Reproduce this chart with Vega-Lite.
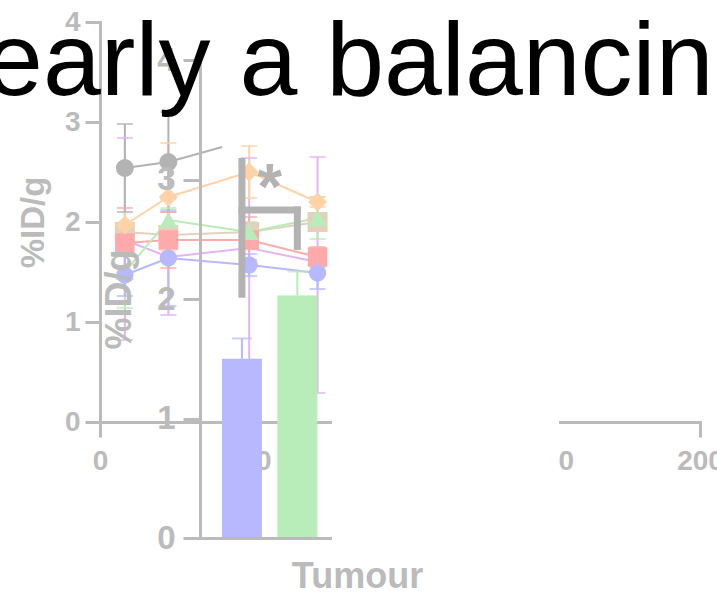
{
  "$schema": "https://vega.github.io/schema/vega-lite/v6.json",
  "width": 717,
  "height": 596,
  "autosize": "none",
  "padding": 0,
  "background": "white",
  "config": {
    "view": {"stroke": null},
    "axis": {
      "grid": false,
      "domainColor": "#bbbbbb",
      "tickColor": "#bbbbbb",
      "labelColor": "#bbbbbb",
      "titleColor": "#bbbbbb",
      "domainWidth": 3,
      "tickWidth": 3,
      "labelFont": "Liberation Sans",
      "titleFont": "Liberation Sans",
      "labelFontWeight": "bold",
      "titleFontWeight": "bold",
      "labelFlush": false,
      "labelOverlap": false,
      "domainCap": "square",
      "format": "d"
    }
  },
  "title": {
    "text": "Nearly a balancing act",
    "anchor": "start",
    "frame": "group",
    "orient": "top",
    "font": "Liberation Sans",
    "fontSize": 104,
    "fontWeight": "normal",
    "color": "black",
    "baseline": "alphabetic",
    "offset": -199,
    "dx": -90,
    "zindex": 2
  },
  "datasets": {
    "series": [
      {"s": "purple", "t": 8, "m": 1.82, "lo": 0.82, "hi": 2.84, "pt": false},
      {"s": "purple", "t": 22, "m": 1.65, "lo": 1.07, "hi": 2.23, "pt": false},
      {"s": "purple", "t": 48, "m": 1.74, "lo": 0.5, "hi": 2.64, "pt": false},
      {"s": "purple", "t": 70, "m": 1.6, "lo": 0.29, "hi": 2.65, "pt": false},
      {"s": "tan", "t": 8, "m": 1.9, "lo": 1.85, "hi": 1.95, "pt": true},
      {"s": "tan", "t": 22, "m": 1.87, "lo": 1.82, "hi": 1.92, "pt": true},
      {"s": "tan", "t": 48, "m": 1.9, "lo": 1.85, "hi": 1.95, "pt": true},
      {"s": "tan", "t": 70, "m": 2.0, "lo": 1.95, "hi": 2.05, "pt": true},
      {"s": "red", "t": 8, "m": 1.79, "lo": 1.44, "hi": 2.14, "pt": true},
      {"s": "red", "t": 22, "m": 1.82, "lo": 1.54, "hi": 2.1, "pt": true},
      {"s": "red", "t": 48, "m": 1.82, "lo": 1.62, "hi": 2.05, "pt": true},
      {"s": "red", "t": 70, "m": 1.65, "lo": 1.55, "hi": 1.75, "pt": true},
      {"s": "orange", "t": 8, "m": 1.97, "lo": 1.44, "hi": 2.5, "pt": true},
      {"s": "orange", "t": 22, "m": 2.25, "lo": 1.71, "hi": 2.79, "pt": true},
      {"s": "orange", "t": 48, "m": 2.5, "lo": 2.24, "hi": 2.76, "pt": true},
      {"s": "orange", "t": 70, "m": 2.2, "lo": 2.15, "hi": 2.25, "pt": true},
      {"s": "green", "t": 8, "m": 1.5, "lo": 1.14, "hi": 1.86, "pt": true},
      {"s": "green", "t": 22, "m": 2.02, "lo": 1.9, "hi": 2.14, "pt": true},
      {"s": "green", "t": 48, "m": 1.9, "lo": 1.8, "hi": 2.0, "pt": true},
      {"s": "green", "t": 70, "m": 2.04, "lo": 1.83, "hi": 2.25, "pt": true},
      {"s": "gray", "t": 8, "m": 2.54, "lo": 2.1, "hi": 2.98, "pt": true},
      {"s": "gray", "t": 22, "m": 2.6, "lo": 2.1, "hi": 3.1, "pt": true},
      {"s": "gray", "t": 39.3, "m": 2.75, "lo": null, "hi": null, "pt": false},
      {"s": "blue", "t": 8, "m": 1.47, "lo": 1.26, "hi": 1.68, "pt": true},
      {"s": "blue", "t": 22, "m": 1.64, "lo": 1.16, "hi": 2.12, "pt": true},
      {"s": "blue", "t": 48, "m": 1.57, "lo": 1.46, "hi": 1.68, "pt": true},
      {"s": "blue", "t": 70, "m": 1.49, "lo": 1.33, "hi": 1.65, "pt": true}
    ],
    "bars": [
      {"c": "Blue", "pos": 1, "v": 1.5, "e": 1.67},
      {"c": "Green", "pos": 2, "v": 2.03, "e": 2.23}
    ],
    "bracket": [
      {"x": 1, "x2": 1, "y": 2.04, "y2": 3.15},
      {"x": 1, "x2": 2, "y": 2.745, "y2": 2.745},
      {"x": 2, "x2": 2, "y": 2.44, "y2": 2.745}
    ],
    "star": [{"pos": 1.5, "y": 2.75, "label": "*"}],
    "axis3": [{"v": 0}, {"v": 200}]
  },
  "layer": [
    {
      "data": {"name": "series"},
      "layer": [
        {
          "mark": {"type": "line", "strokeWidth": 2},
          "encoding": {
            "x": {"field": "t", "type": "quantitative", "scale": {"domain": [0, 74], "range": [100, 330], "nice": false, "zero": false},
              "axis": {"orient": "bottom", "offset": -174, "values": [0, 50], "tickSize": 15, "labelFontSize": 28, "labelPadding": 10, "title": null}},
            "y": {"field": "m", "type": "quantitative", "scale": {"domain": [0, 4], "range": [422, 22], "nice": false},
              "axis": {"orient": "left", "offset": -100, "values": [0, 1, 2, 3, 4], "tickSize": 15, "labelFontSize": 28, "labelPadding": 5, "title": "%ID/g", "titleFontSize": 33, "titlePadding": 14}},
            "color": {"field": "s", "type": "nominal", "legend": null,
              "scale": {"domain": ["purple", "tan", "red", "orange", "green", "gray", "blue"], "range": ["#e4b4f4", "#e2d2bc", "#ffaaaa", "#ffd2a8", "#b8ecb8", "#b3b3b3", "#b8b8ff"]}}
          }
        },
        {
          "mark": {"type": "rule", "strokeWidth": 2},
          "encoding": {
            "x": {"field": "t", "type": "quantitative"},
            "y": {"field": "lo", "type": "quantitative"},
            "y2": {"field": "hi"},
            "color": {"field": "s", "type": "nominal", "legend": null}
          }
        },
        {
          "mark": {"type": "tick", "orient": "horizontal", "size": 16, "thickness": 2},
          "encoding": {
            "x": {"field": "t", "type": "quantitative"},
            "y": {"field": "lo", "type": "quantitative"},
            "color": {"field": "s", "type": "nominal", "legend": null}
          }
        },
        {
          "mark": {"type": "tick", "orient": "horizontal", "size": 16, "thickness": 2},
          "encoding": {
            "x": {"field": "t", "type": "quantitative"},
            "y": {"field": "hi", "type": "quantitative"},
            "color": {"field": "s", "type": "nominal", "legend": null}
          }
        },
        {
          "transform": [{"filter": "datum.pt"}],
          "mark": {"type": "point", "filled": true, "opacity": 1},
          "encoding": {
            "x": {"field": "t", "type": "quantitative"},
            "y": {"field": "m", "type": "quantitative"},
            "color": {"field": "s", "type": "nominal", "legend": null},
            "shape": {"field": "s", "type": "nominal", "legend": null,
              "scale": {"domain": ["tan", "red", "orange", "green", "gray", "blue"], "range": ["square", "square", "diamond", "triangle-up", "circle", "circle"]}},
            "size": {"field": "s", "type": "nominal", "legend": null,
              "scale": {"domain": ["tan", "red", "orange", "green", "gray", "blue"], "range": [400, 300, 320, 300, 380, 320]}}
          }
        }
      ]
    },
    {
      "layer": [
        {
          "data": {"name": "bars"},
          "mark": {"type": "bar", "size": 40, "orient": "vertical"},
          "encoding": {
            "x": {"field": "pos", "type": "quantitative", "scale": {"domain": [0.3333, 2.5], "range": [200, 330], "nice": false, "zero": false},
              "axis": {"orient": "bottom", "offset": -58, "ticks": false, "labels": false, "title": "Tumour", "titleFontSize": 36, "titleX": 357, "titleY": 49, "titleBaseline": "alphabetic", "zindex": 1}},
            "y": {"field": "v", "type": "quantitative", "scale": {"domain": [0, 4], "range": [538, 60], "nice": false},
              "axis": {"orient": "left", "offset": -200, "values": [0, 1, 2, 3, 4], "tickSize": 17, "labelFontSize": 33, "labelPadding": 8, "title": "%ID/g", "titleFontSize": 36, "titlePadding": 18, "zindex": 1}},
            "color": {"field": "c", "type": "nominal", "legend": null, "scale": {"domain": ["Blue", "Green"], "range": ["#b8b8ff", "#b8ecb8"]}}
          }
        },
        {
          "data": {"name": "bars"},
          "mark": {"type": "rule", "strokeWidth": 2},
          "encoding": {
            "x": {"field": "pos", "type": "quantitative"},
            "y": {"field": "v", "type": "quantitative"},
            "y2": {"field": "e"},
            "color": {"field": "c", "type": "nominal", "legend": null}
          }
        },
        {
          "data": {"name": "bars"},
          "mark": {"type": "tick", "orient": "horizontal", "size": 20, "thickness": 2},
          "encoding": {
            "x": {"field": "pos", "type": "quantitative"},
            "y": {"field": "e", "type": "quantitative"},
            "color": {"field": "c", "type": "nominal", "legend": null}
          }
        },
        {
          "data": {"name": "bracket"},
          "mark": {"type": "rule", "strokeWidth": 7, "color": "#b3b3b3", "strokeCap": "square"},
          "encoding": {
            "x": {"field": "x", "type": "quantitative"},
            "x2": {"field": "x2"},
            "y": {"field": "y", "type": "quantitative"},
            "y2": {"field": "y2"}
          }
        },
        {
          "data": {"name": "star"},
          "mark": {"type": "text", "fontSize": 64, "fontWeight": "bold", "font": "Liberation Sans", "color": "#b3b3b3", "baseline": "alphabetic", "align": "center"},
          "encoding": {
            "x": {"field": "pos", "type": "quantitative"},
            "y": {"field": "y", "type": "quantitative"},
            "text": {"field": "label"}
          }
        }
      ]
    },
    {
      "data": {"name": "axis3"},
      "mark": {"type": "point", "opacity": 0},
      "encoding": {
        "x": {"field": "v", "type": "quantitative", "scale": {"domain": [-8.6, 200], "range": [560, 700], "nice": false, "zero": false},
          "axis": {"orient": "bottom", "offset": -174, "values": [0, 200], "tickSize": 15, "labelFontSize": 28, "labelPadding": 10, "title": null,
            "tickOpacity": {"condition": {"test": "datum.value === 0", "value": 0}, "value": 1}}}
      }
    }
  ],
  "resolve": {
    "scale": {"x": "independent", "y": "independent", "color": "independent"},
    "axis": {"x": "independent", "y": "independent"}
  }
}
